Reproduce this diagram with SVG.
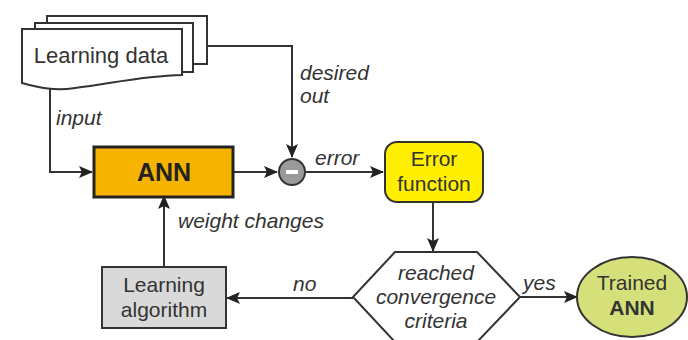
<svg xmlns="http://www.w3.org/2000/svg" width="688" height="340" viewBox="0 0 688 340">
<defs>
<style>
.ln{fill:none;stroke:#333;stroke-width:2}
.t{font-family:"Liberation Sans",Arial,sans-serif;font-size:21px;fill:#333}
.i{font-style:italic}
.b{font-weight:bold}
.m{text-anchor:middle}
</style>
<marker id="ar" markerUnits="userSpaceOnUse" markerWidth="14" markerHeight="12" viewBox="0 0 14 12" refX="13" refY="6" orient="auto">
<path d="M0,0 L14,6 L0,12 L3,6 Z" fill="#222"/>
</marker>
</defs>
<rect width="688" height="340" fill="#fff"/>
<g id="connectors">
<path class="ln" d="M50,86 V172 H92" marker-end="url(#ar)"/>
<path class="ln" d="M207,46 H292 V157" marker-end="url(#ar)"/>
<path class="ln" d="M233,172 H277" marker-end="url(#ar)"/>
<path class="ln" d="M306,172 H383" marker-end="url(#ar)"/>
<path class="ln" d="M433,202 V251" marker-end="url(#ar)"/>
<path class="ln" d="M520,297 H577" marker-end="url(#ar)"/>
<path class="ln" d="M353,298 H227" marker-end="url(#ar)"/>
<path class="ln" d="M164,267 V196" marker-end="url(#ar)"/>
<text class="t i" x="56" y="125">input</text>
<text class="t i" x="300" y="80">desired</text>
<text class="t i" x="300" y="103">out</text>
<text class="t i" x="315" y="165">error</text>
<text class="t i" x="178" y="228">weight changes</text>
<text class="t i" x="293" y="291">no</text>
<text class="t i" x="523" y="290">yes</text>
</g>
<g id="learning-data">
<rect x="47" y="16" width="160" height="48" fill="#fff" stroke="#333" stroke-width="2"/>
<rect x="35" y="23" width="158" height="49" fill="#fff" stroke="#333" stroke-width="2"/>
<path d="M22,29 H182 V75 C140,76 110,84 75,88 C55,91 40,88 22,83 Z" fill="#fff" stroke="#333" stroke-width="2"/>
<text class="t" x="101" y="63" text-anchor="middle" style="font-size:22px">Learning data</text>
</g>
<g id="ann">
<rect x="94" y="147" width="139" height="50" fill="#F6B400" stroke="#222" stroke-width="3"/>
<text class="t b m" x="164" y="181" style="font-size:25px;fill:#222">ANN</text>
</g>
<g id="minus">
<circle cx="292" cy="172" r="13" fill="#9a9a9a" stroke="#333" stroke-width="2"/>
<rect x="286" y="170" width="12" height="4" fill="#fff"/>
</g>
<g id="error-function">
<rect x="385" y="142" width="98" height="60" rx="12" fill="#FFEF00" stroke="#333" stroke-width="2"/>
<text class="t m" x="434" y="166">Error</text>
<text class="t m" x="434" y="191">function</text>
</g>
<g id="convergence">
<polygon points="395,252 477,252 520,297 477,342 395,342 353,297" fill="#fff" stroke="#333" stroke-width="2"/>
<text class="t i m" x="436" y="280">reached</text>
<text class="t i m" x="436" y="304">convergence</text>
<text class="t i m" x="436" y="328">criteria</text>
</g>
<g id="trained-ann">
<ellipse cx="632" cy="297" rx="55" ry="40" fill="#D5E07A" stroke="#333" stroke-width="2"/>
<text class="t m" x="632" y="290">Trained</text>
<text class="t b m" x="632" y="315">ANN</text>
</g>
<g id="learning-algorithm">
<rect x="102" y="267" width="124" height="61" fill="#D9D9D9" stroke="#333" stroke-width="2"/>
<text class="t m" x="164" y="292">Learning</text>
<text class="t m" x="164" y="317">algorithm</text>
</g>
</svg>
